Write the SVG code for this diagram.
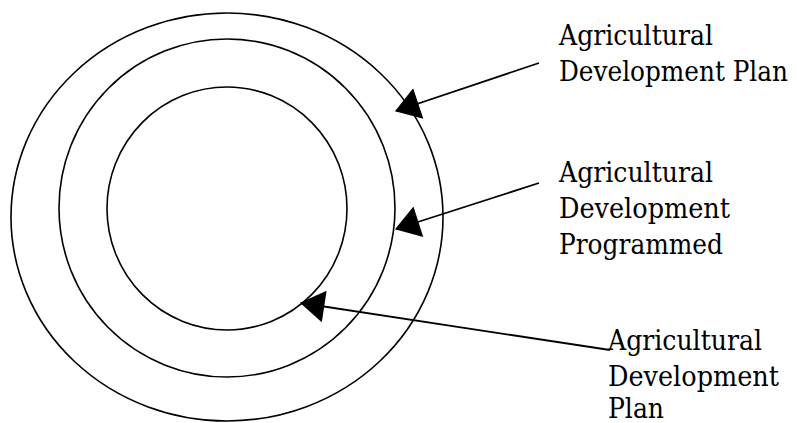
<svg xmlns="http://www.w3.org/2000/svg" width="797" height="423" viewBox="0 0 797 423">
<style>
.ring{fill:none;stroke:#000;stroke-width:1.6}
.conn{stroke:#000;stroke-width:1.8;fill:none;marker-end:url(#ah)}
</style>
<defs>
<marker id="ah" markerUnits="userSpaceOnUse" markerWidth="30" markerHeight="32" viewBox="0 0 24 30" refX="22" refY="15" orient="auto">
<path d="M0,0 L23,15 L0,30 Z" fill="#000"/>
</marker>
</defs>
<rect width="797" height="423" fill="#fff"/>
<g id="outer"><ellipse class="ring" cx="227" cy="217" rx="216" ry="204"/></g>
<g id="middle"><ellipse class="ring" cx="227" cy="208" rx="168" ry="169"/></g>
<g id="inner"><ellipse class="ring" cx="227" cy="208.5" rx="120" ry="121.5"/></g>
<g id="connectors">
<line class="conn" x1="539" y1="63" x2="396" y2="111"/>
<line class="conn" x1="539" y1="183" x2="396" y2="229"/>
<line class="conn" x1="610" y1="350" x2="301" y2="303"/>
</g>
<g font-family="'DejaVu Serif', serif" font-size="27.5" fill="#000">
<g id="label1"><text x="559" y="45" textLength="154" lengthAdjust="spacingAndGlyphs">Agricultural</text><text x="559" y="81" textLength="229" lengthAdjust="spacingAndGlyphs">Development Plan</text></g>
<g id="label2"><text x="559" y="182" textLength="154" lengthAdjust="spacingAndGlyphs">Agricultural</text><text x="559" y="218" textLength="171" lengthAdjust="spacingAndGlyphs">Development</text><text x="559" y="254" textLength="164" lengthAdjust="spacingAndGlyphs">Programmed</text></g>
<g id="label3"><text x="608" y="350" textLength="154" lengthAdjust="spacingAndGlyphs">Agricultural</text><text x="608" y="386" textLength="171" lengthAdjust="spacingAndGlyphs">Development</text><text x="608" y="418" textLength="56" lengthAdjust="spacingAndGlyphs">Plan</text></g>
</g>
</svg>
